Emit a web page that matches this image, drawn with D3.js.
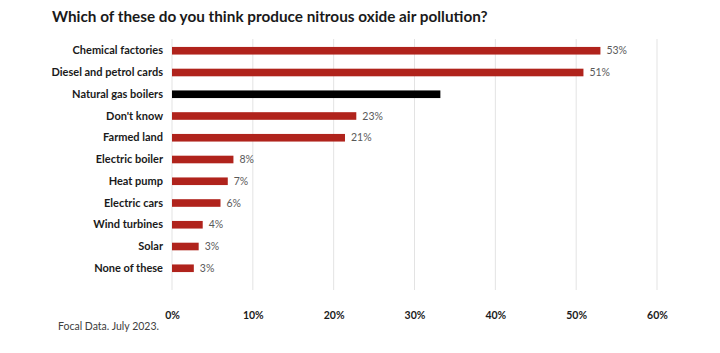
<!DOCTYPE html>
<html lang="en">
<head>
    <meta charset="UTF-8"/>
    <title>Nitrous oxide air pollution</title>
    <script src="https://d3js.org/d3.v7.min.js"></script>
    <style>
        body { margin: 0; background: #fff; }
        text { font-family: "Lato", "DejaVu Sans", sans-serif; }
    </style>
</head>
<body>
    <div id="chart"></div>

    <script>
        var categories = ["Chemical factories", "Diesel and petrol cards", "Natural gas boilers",
                          "Don't know", "Farmed land", "Electric boiler", "Heat pump",
                          "Electric cars", "Wind turbines", "Solar", "None of these"];
        var values = [53, 51, 33, 23, 21, 8, 7, 6, 4, 3, 3];
        var barLengths = [53, 50.9, 33.2, 22.8, 21.4, 7.6, 6.9, 6, 3.8, 3.3, 2.7];
        var tickValues = [0, 10, 20, 30, 40, 50, 60];
        var highlight = "Natural gas boilers";

        var w = 720;
        var h = 353;
        var plotLeft = 172;
        var plotRight = 657;
        var plotTop = 39;
        var plotBottom = 290;

        var xScale = d3.scaleLinear()
                        .domain([0, 60])
                        .range([plotLeft, plotRight]);

        var yScale = d3.scaleBand()
                        .domain(categories)
                        .range([41.5, 277.5])
                        .paddingInner(0.65)
                        .paddingOuter(0.25);

        var svg = d3.select("#chart")
                    .append("svg")
                    .attr("width", w)
                    .attr("height", h);

        // Title
        svg.append("text")
           .attr("x", 52)
           .attr("y", 22)
           .attr("font-size", "15.3px")
           .attr("font-weight", "bold")
           .attr("fill", "#1a1a1a")
           .text("Which of these do you think produce nitrous oxide air pollution?");

        // Gridlines
        svg.append("g")
           .selectAll("line")
           .data(tickValues)
           .enter()
           .append("line")
           .attr("x1", function(d) { return xScale(d); })
           .attr("x2", function(d) { return xScale(d); })
           .attr("y1", plotTop)
           .attr("y2", plotBottom)
           .attr("stroke", "#e3e3e3")
           .attr("stroke-width", 1);

        // Bars
        svg.selectAll("rect.bar")
           .data(categories)
           .enter()
           .append("rect")
           .attr("class", "bar")
           .attr("x", xScale(0))
           .attr("y", function(d) { return yScale(d); })
           .attr("width", function(d, i) { return xScale(barLengths[i]) - xScale(0); })
           .attr("height", yScale.bandwidth())
           .attr("fill", function(d) { return d === highlight ? "#000000" : "#b0231c"; });

        // Value labels (none on the highlighted bar)
        svg.selectAll("text.value")
           .data(categories.filter(function(d) { return d !== highlight; }))
           .enter()
           .append("text")
           .attr("class", "value")
           .attr("x", function(d) { return xScale(barLengths[categories.indexOf(d)]) + 6; })
           .attr("y", function(d) { return yScale(d) + yScale.bandwidth() / 2; })
           .attr("dy", "0.35em")
           .attr("font-size", "10.5px")
           .attr("fill", "#595959")
           .text(function(d) { return values[categories.indexOf(d)] + "%"; });

        // Category labels
        var yAxis = d3.axisLeft(yScale).tickSize(0).tickPadding(9);
        var yg = svg.append("g")
           .attr("transform", "translate(" + plotLeft + ",0)")
           .call(yAxis);
        yg.select(".domain").remove();
        yg.selectAll("text")
          .attr("font-size", "11px")
          .attr("font-weight", "bold")
          .attr("fill", "#1a1a1a")
          .style("font-family", "Lato, 'DejaVu Sans', sans-serif");

        // X axis labels
        var xAxis = d3.axisBottom(xScale)
                      .tickValues(tickValues)
                      .tickSize(0)
                      .tickPadding(0)
                      .tickFormat(function(d) { return d + "%"; });
        var xg = svg.append("g")
           .attr("transform", "translate(0," + 312 + ")")
           .call(xAxis);
        xg.select(".domain").remove();
        xg.selectAll("text")
          .attr("font-size", "10.5px")
          .attr("font-weight", "bold")
          .attr("fill", "#1a1a1a")
          .style("font-family", "Lato, 'DejaVu Sans', sans-serif");

        // Source note
        svg.append("text")
           .attr("x", 58)
           .attr("y", 330)
           .attr("font-size", "10.5px")
           .attr("fill", "#404040")
           .text("Focal Data. July 2023.");
    </script>
</body>
</html>
